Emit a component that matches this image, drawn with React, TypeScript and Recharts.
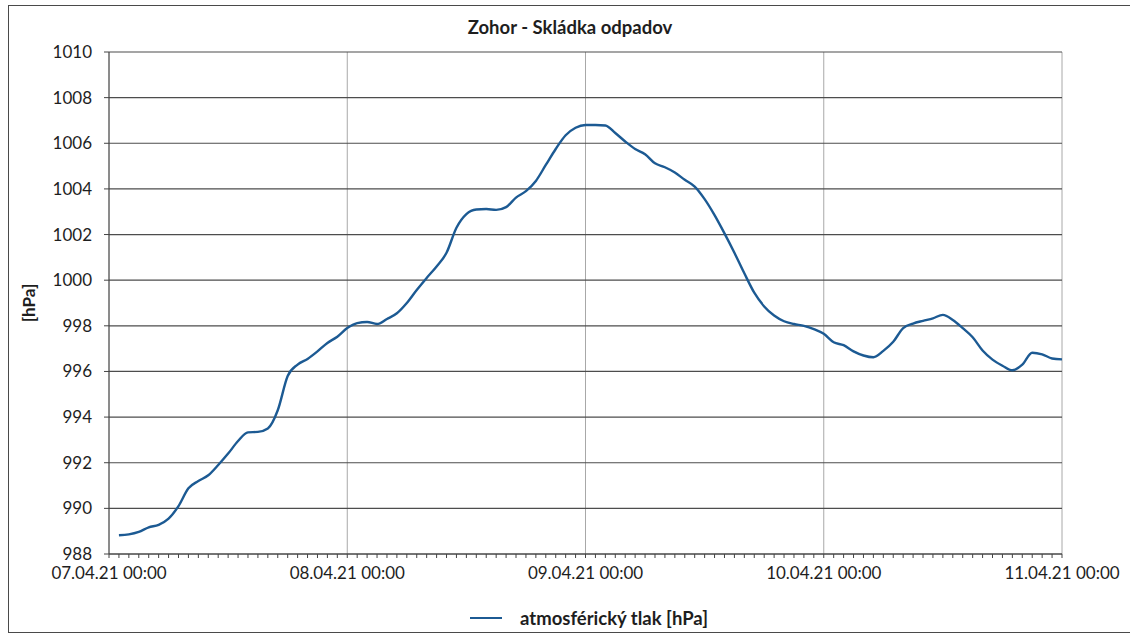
import { CartesianGrid, Line, LineChart, XAxis, YAxis } from 'recharts';

// hours since 07.04.21 00:00
const HOURS = [
  1, 2, 3, 4, 5, 6, 7, 8, 9, 10, 11, 12, 13, 14, 15, 16, 17, 18, 19, 20, 21, 22, 23, 24,
  25, 26, 27, 28, 29, 30, 31, 32, 33, 34, 35, 36, 37, 38, 39, 40, 41, 42, 43, 44, 45, 46, 47, 48,
  49, 50, 51, 52, 53, 54, 55, 56, 57, 58, 59, 60, 61, 62, 63, 64, 65, 66, 67, 68, 69, 70, 71, 72,
  73, 74, 75, 76, 77, 78, 79, 80, 81, 82, 83, 84, 85, 86, 87, 88, 89, 90, 91, 92, 93, 94, 95, 96,
];

const PRESSURE = [
  988.82, 988.86, 988.97, 989.17, 989.28, 989.55, 990.1, 990.88, 991.2, 991.45, 991.9, 992.4,
  992.95, 993.33, 993.35, 993.5, 994.3, 995.8, 996.3, 996.55, 996.88, 997.25, 997.52, 997.9,
  998.12, 998.17, 998.08, 998.3, 998.55, 999.0, 999.57, 1000.1, 1000.6, 1001.2, 1002.3, 1002.9,
  1003.1, 1003.12, 1003.08, 1003.2, 1003.62, 1003.9, 1004.35, 1005.05, 1005.75, 1006.35, 1006.68, 1006.8,
  1006.8, 1006.78, 1006.45, 1006.08, 1005.75, 1005.52, 1005.12, 1004.95, 1004.72, 1004.4, 1004.1, 1003.55,
  1002.85, 1002.05, 1001.2, 1000.3, 999.45, 998.85, 998.45, 998.2, 998.08, 998.0, 997.86, 997.65,
  997.28, 997.15, 996.88, 996.7, 996.62, 996.9, 997.3, 997.9, 998.1, 998.22, 998.33, 998.48,
  998.26, 997.9, 997.5, 996.92, 996.52, 996.25, 996.05, 996.3, 996.82, 996.75, 996.57, 996.53,
];

const DAY_TICKS = [0, 24, 48, 72, 96];
const DAY_LABELS = ['07.04.21 00:00', '08.04.21 00:00', '09.04.21 00:00', '10.04.21 00:00', '11.04.21 00:00'];
const HOUR_TICKS = Array.from({ length: 97 }, (_, h) => h);
const Y_TICKS = [988, 990, 992, 994, 996, 998, 1000, 1002, 1004, 1006, 1008, 1010];

const LINE_COLOR = '#1c5a93';
const TEXT_COLOR = '#1e1e1e';
const FONT = 'Lato, "Open Sans", sans-serif';

const data = HOURS.map((h, i) => ({ hour: h, pressure: PRESSURE[i] }));

function formatDayTick(value: number): string {
  const idx = DAY_TICKS.indexOf(value);
  return idx >= 0 ? DAY_LABELS[idx] : '';
}

export default function App() {
  return (
    <div
      style={{
        position: 'absolute',
        left: 0,
        top: 0,
        width: 1130,
        height: 635,
        background: '#fff',
        fontFamily: FONT,
        overflow: 'hidden',
      }}
    >
      <div
        style={{
          position: 'absolute',
          left: 8,
          top: 5,
          width: 1140,
          height: 626,
          borderLeft: '1px solid #4a4a4a',
          borderTop: '1px solid #4a4a4a',
          borderBottom: '1px solid #4a4a4a',
        }}
      >
        <LineChart
          width={1120}
          height={626}
          data={data}
          margin={{ top: 46, right: 67, left: 10, bottom: 48 }}
        >
          <CartesianGrid horizontal={false} xAxisId="grid" stroke="#a8a8a8" strokeWidth={1} />
          <CartesianGrid vertical={false} stroke="#4d4d4d" strokeWidth={1.2} />
          <XAxis xAxisId="grid" dataKey="hour" type="number" domain={[0, 96]} ticks={DAY_TICKS} hide />
          <XAxis
            xAxisId="top"
            orientation="top"
            dataKey="hour"
            type="number"
            domain={[0, 96]}
            ticks={HOUR_TICKS}
            interval={0}
            tick={false}
            height={0}
            tickSize={3}
            stroke="#555"
          />
          <XAxis
            dataKey="hour"
            type="number"
            domain={[0, 96]}
            ticks={HOUR_TICKS}
            interval={0}
            tickFormatter={formatDayTick}
            tick={{ fill: TEXT_COLOR, fontSize: 17, fontFamily: FONT }}
            tickSize={4}
            tickMargin={9}
            height={30}
            stroke="#444"
          />
          <YAxis
            domain={[988, 1010]}
            ticks={Y_TICKS}
            interval={0}
            width={90}
            tick={{ fill: TEXT_COLOR, fontSize: 17, fontFamily: FONT }}
            tickSize={5}
            tickMargin={12}
            stroke="#444"
            label={{
              content: (props: any) => {
                const vb = props.viewBox || { x: 10, y: 46, width: 90, height: 502 };
                const cx = vb.x + 9;
                const cy = vb.y + vb.height / 2;
                return (
                  <text
                    x={cx}
                    y={cy}
                    transform={`rotate(-90 ${cx} ${cy})`}
                    textAnchor="middle"
                    dominantBaseline="central"
                    fontFamily={FONT}
                    fontWeight="bold"
                    fontSize={17}
                    fill={TEXT_COLOR}
                  >
                    [hPa]
                  </text>
                );
              },
            }}
          />
          <Line
            dataKey="pressure"
            type="monotone"
            stroke={LINE_COLOR}
            strokeWidth={2.4}
            dot={false}
            isAnimationActive={false}
          />
        </LineChart>
      </div>
      <div
        style={{
          position: 'absolute',
          left: 370,
          top: 16,
          width: 400,
          textAlign: 'center',
          fontSize: 18.5,
          fontWeight: 'bold',
          color: TEXT_COLOR,
          lineHeight: '22px',
        }}
      >
        Zohor - Skládka odpadov
      </div>
      <div
        style={{
          position: 'absolute',
          left: 470,
          top: 607,
          display: 'flex',
          alignItems: 'center',
          fontSize: 18.5,
          fontWeight: 'bold',
          color: TEXT_COLOR,
          lineHeight: '22px',
        }}
      >
        <span
          style={{ display: 'inline-block', width: 32, height: 2, background: LINE_COLOR, marginRight: 18 }}
        />
        atmosférický tlak [hPa]
      </div>
    </div>
  );
}
